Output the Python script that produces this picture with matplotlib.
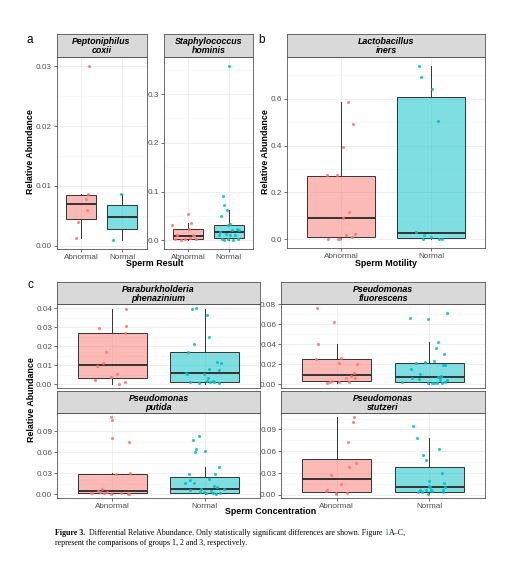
import numpy as np
import matplotlib
matplotlib.use("Agg")
import matplotlib.pyplot as plt
from matplotlib.ticker import MultipleLocator, FormatStrFormatter

plt.rcParams['font.family'] = ['Liberation Sans', 'DejaVu Sans']

W, H = 512, 572

groups = ["Abnormal", "Normal"]
colors = ["#F8766D", "#00BFC4"]

# box stats per group: [whislo, q1, med, q3, whishi]
# --- a: Peptoniphilus coxii
pc_ab_y = [0.0301, 0.0087, 0.0078, 0.0060, 0.0039, 0.0013]
pc_ab_dx = [0.20, 0.17, 0.12, 0.15, -0.08, -0.12]
pc_no_y = [0.0087, 0.0009]
pc_no_dx = [-0.03, -0.23]
pc_ab_box = [0.0013, 0.0044, 0.0069, 0.0084, 0.0087]
pc_no_box = [0.0009, 0.0028, 0.0048, 0.0068, 0.0087]

# --- a: Staphylococcus hominis
sh_ab_y = [0.0545, 0.036, 0.032, 0.024, 0.0116, 0.0102, 0.0048, 0.002, 0.0034, 0.0, 0.0034, 0.0089]
sh_ab_dx = [0.0, 0.07, -0.39, 0.02, 0.12, -0.27, 0.04, 0.2, -0.07, -0.19, -0.33, 0.14]
sh_no_y = [0.358, 0.0907, 0.073, 0.0627, 0.049, 0.034, 0.0307, 0.017, 0.0204, 0.0225,
           0.0204, 0.0116, 0.0136, 0.0102, 0.0034, 0.0, 0.0, 0.0034, 0.0034, 0.0102]
sh_no_dx = [0.0, -0.15, -0.11, -0.05, -0.18, 0.02, -0.01, -0.21, 0.07, 0.2,
            0.25, -0.23, -0.07, 0.03, -0.17, -0.11, 0.11, 0.24, -0.01, 0.15]
sh_ab_box = [0.0, 0.002, 0.0082, 0.023, 0.036]
sh_no_box = [0.0, 0.0048, 0.017, 0.032, 0.0627]

# --- b: Lactobacillus iners
li_ab_y = [0.587, 0.493, 0.394, 0.273, 0.273, 0.118, 0.093, 0.024, 0.017, 0.012, 0.003, 0.003, 0.002]
li_ab_dx = [0.08, 0.13, 0.02, -0.16, -0.04, 0.09, 0.02, 0.16, 0.06, 0.12, -0.15, -0.03, -0.01]
li_no_y = [0.739, 0.694, 0.641, 0.503, 0.032, 0.018, 0.011, 0.002, 0.003, 0.003]
li_no_dx = [-0.13, -0.11, 0.01, 0.08, -0.17, -0.08, 0.0, -0.09, 0.09, 0.12]
li_ab_box = [0.002, 0.011, 0.093, 0.272, 0.586]
li_no_box = [0.0, 0.005, 0.025, 0.607, 0.741]

# --- c: Paraburkholderia phenazinium
pp_ab_y = [0.0398, 0.0295, 0.0307, 0.0267, 0.0172, 0.0111, 0.0095, 0.0056, 0.0037, 0.0023, 0.0012, 0.0]
pp_ab_dx = [0.15, -0.14, 0.15, 0.14, -0.07, -0.10, -0.17, 0.05, -0.02, -0.19, 0.14, 0.07]
pp_no_y = [0.0396, 0.0402, 0.0365, 0.0249, 0.0209, 0.0172, 0.0119, 0.0109, 0.0082, 0.0077, 0.006,
           0.0051, 0.0054, 0.003, 0.0009, 0.0005, 0.0018, 0.0009, 0.0009, 0.0004, 0.0016]
pp_no_dx = [-0.14, -0.09, 0.03, 0.05, -0.11, -0.18, 0.13, 0.18, 0.05, 0.16, -0.2,
            -0.19, -0.01, 0.04, -0.16, -0.06, 0.09, 0.10, 0.06, 0.16, 0.03]
pp_ab_box = [0.0, 0.0035, 0.0102, 0.0272, 0.0398]
pp_no_box = [0.0, 0.0012, 0.006, 0.017, 0.0398]

# --- c: Pseudomonas fluorescens
pf_ab_y = [0.0763, 0.0626, 0.0398, 0.0254, 0.0258, 0.0208, 0.0201, 0.0107, 0.0084, 0.0057,
           0.0057, 0.0017, 0.003, 0.0023, 0.0007, 0.0023]
pf_ab_dx = [-0.21, -0.03, -0.2, -0.22, 0.05, 0.03, 0.22, 0.19, 0.15, 0.10,
            0.2, 0.13, -0.05, 0.03, -0.10, -0.07]
pf_no_y = [0.0666, 0.0656, 0.071, 0.0425, 0.0365, 0.0298, 0.0231, 0.0218, 0.0214, 0.0191, 0.0191,
           0.0147, 0.0104, 0.0084, 0.0074, 0.0064, 0.005, 0.0023, 0.0007, 0.0013, 0.0037,
           0.0007, 0.0023, 0.004, 0.0007, 0.0007, 0.006]
pf_no_dx = [-0.21, -0.01, 0.19, 0.09, 0.07, 0.16, 0.05, -0.05, -0.14, 0.15, 0.17,
            -0.2, -0.1, 0.13, 0.09, -0.19, -0.11, -0.29, -0.01, 0.03, 0.11,
            0.14, 0.17, 0.19, 0.05, 0.08, 0.12]
pf_ab_box = [0.0007, 0.0027, 0.0094, 0.0251, 0.0398]
pf_no_box = [0.0, 0.0023, 0.0074, 0.0214, 0.0425]

# --- c: Pseudomonas putida
pu_ab_y = [0.111, 0.1067, 0.0808, 0.0744, 0.0289, 0.0303, 0.0044, 0.0069, 0.0029, 0.001,
           0.001, 0.0024, 0.0, 0.001, 0.0, 0.0005, 0.002]
pu_ab_dx = [-0.02, 0.0, 0.0, 0.18, 0.04, 0.19, -0.16, -0.11, -0.13, -0.09,
            -0.23, -0.06, -0.02, 0.09, 0.17, 0.18, -0.22]
pu_no_y = [0.084, 0.0778, 0.0646, 0.0612, 0.0626, 0.0392, 0.0289, 0.0289, 0.0201, 0.022,
           0.0157, 0.0162, 0.0117, 0.0108, 0.0059, 0.0078, 0.0034, 0.0069, 0.001, 0.001,
           0.0, 0.001, 0.0034, 0.0049]
pu_no_dx = [-0.06, -0.13, -0.09, -0.1, 0.0, 0.16, -0.17, 0.11, -0.16, 0.05,
            -0.12, -0.21, 0.1, 0.13, -0.16, -0.04, -0.01, 0.21, 0.01, 0.09,
            0.12, 0.17, -0.05, 0.07]
pu_ab_box = [0.0, 0.0015, 0.0049, 0.0294, 0.0303]
pu_no_box = [0.0, 0.001, 0.0073, 0.0245, 0.039]

# --- c: Pseudomonas stutzeri
ps_ab_y = [0.1073, 0.0998, 0.0727, 0.0431, 0.0384, 0.0277, 0.015, 0.0061, 0.0047, 0.0023, 0.0009, 0.0023]
ps_ab_dx = [0.19, 0.18, 0.12, 0.21, 0.13, -0.06, 0.05, -0.1, -0.11, -0.01, -0.01, 0.11]
ps_no_y = [0.0952, 0.0783, 0.0628, 0.0553, 0.0483, 0.0295, 0.0188, 0.0159, 0.0108, 0.0108,
           0.007, 0.0066, 0.0061, 0.007, 0.0033, 0.0033, 0.0014, 0.0047, 0.0037, 0.0117]
ps_no_dx = [-0.18, -0.13, 0.1, -0.07, -0.04, 0.14, 0.0, 0.16, 0.17, 0.01,
            -0.04, -0.1, 0.15, 0.02, -0.12, -0.08, -0.01, 0.03, 0.15, 0.0]
ps_ab_box = [0.0009, 0.0037, 0.0216, 0.0497, 0.1073]
ps_no_box = [0.0014, 0.0042, 0.0108, 0.0389, 0.0783]


def rect(x0, y0, x1, y1):
    return [x0 / W, 1 - y1 / H, (x1 - x0) / W, (y1 - y0) / H]


fig = plt.figure(figsize=(W / 100, H / 100), dpi=100)
fig.patch.set_facecolor("white")


def panel(x0, x1, ys, yp, yb, title, ab_y, ab_dx, no_y, no_dx, ab_box, no_box, step, fmt,
          showx=True):
    ax = fig.add_axes(rect(x0, yp, x1, yb))
    st = fig.add_axes(rect(x0, ys, x1, yp))
    st.set_facecolor("#D9D9D9")
    st.set_xticks([])
    st.set_yticks([])
    for sp in st.spines.values():
        sp.set_color("#555555")
        sp.set_linewidth(0.6)
    st.text(0.5, 0.47, title, ha="center", va="center", fontsize=6.4,
            fontweight="bold", fontstyle="italic", linespacing=1.0, transform=st.transAxes)

    stats = []
    for b in (ab_box, no_box):
        stats.append(dict(whislo=b[0], q1=b[1], med=b[2], q3=b[3], whishi=b[4]))
    bp = ax.bxp(stats, positions=[1, 2], widths=0.75, patch_artist=True,
                showcaps=False, showfliers=False,
                boxprops=dict(edgecolor="#333333", linewidth=0.7),
                whiskerprops=dict(color="#333333", linewidth=0.7),
                medianprops=dict(color="#333333", linewidth=1.4))
    for patch, c in zip(bp["boxes"], colors):
        patch.set_facecolor(matplotlib.colors.to_rgba(c, 0.5))
        patch.set_zorder(2)
    for i, (yv, dx) in enumerate(((ab_y, ab_dx), (no_y, no_dx))):
        ax.scatter(np.array(dx) + i + 1, yv, s=5, color=colors[i], alpha=0.85,
                   linewidths=0, zorder=4)

    allv = list(ab_y) + list(no_y) + list(ab_box) + list(no_box)
    lo, hi = min(allv), max(allv)
    pad = (hi - lo) * 0.05
    ax.set_ylim(lo - pad, hi + pad)
    ax.set_xlim(0.4, 2.6)
    ax.set_xticks([1, 2])
    ax.set_xticklabels(groups)
    ax.yaxis.set_major_locator(MultipleLocator(step))
    ax.yaxis.set_minor_locator(MultipleLocator(step / 2))
    ax.yaxis.set_major_formatter(FormatStrFormatter(fmt))
    ax.grid(True, which="major", color="#EBEBEB", linewidth=0.6, zorder=0)
    ax.grid(True, which="minor", axis="y", color="#F4F4F4", linewidth=0.4, zorder=0)
    ax.set_axisbelow(True)
    ax.tick_params(axis="both", which="major", labelsize=5.9, labelcolor="#4D4D4D",
                   color="#333333", length=2, width=0.5, pad=1.5)
    ax.tick_params(axis="y", which="minor", length=0)
    if not showx:
        ax.tick_params(axis="x", which="both", length=0, labelbottom=False)
    for sp in ax.spines.values():
        sp.set_color("#555555")
        sp.set_linewidth(0.6)
    return ax


# panel a
panel(56.5, 146.5, 34, 57, 249, "Peptoniphilus\ncoxii", pc_ab_y, pc_ab_dx, pc_no_y, pc_no_dx,
      pc_ab_box, pc_no_box, 0.01, "%.2f")
panel(164, 253, 34, 57, 249, "Staphylococcus\nhominis", sh_ab_y, sh_ab_dx, sh_no_y, sh_no_dx,
      sh_ab_box, sh_no_box, 0.1, "%.1f")
# panel b
panel(287, 485, 34, 57, 248, "Lactobacillus\niners", li_ab_y, li_ab_dx, li_no_y, li_no_dx,
      li_ab_box, li_no_box, 0.2, "%.1f")
# panel c
panel(57, 260, 282, 304, 388, "Paraburkholderia\nphenazinium", pp_ab_y, pp_ab_dx, pp_no_y, pp_no_dx,
      pp_ab_box, pp_no_box, 0.01, "%.2f", showx=False)
panel(281, 485, 282, 304, 388, "Pseudomonas\nfluorescens", pf_ab_y, pf_ab_dx, pf_no_y, pf_no_dx,
      pf_ab_box, pf_no_box, 0.02, "%.2f", showx=False)
panel(57, 260, 391, 413, 498, "Pseudomonas\nputida", pu_ab_y, pu_ab_dx, pu_no_y, pu_no_dx,
      pu_ab_box, pu_no_box, 0.03, "%.2f")
panel(281, 485, 391, 413, 498, "Pseudomonas\nstutzeri", ps_ab_y, ps_ab_dx, ps_no_y, ps_no_dx,
      ps_ab_box, ps_no_box, 0.03, "%.2f")


def ftext(x, y, s, **kw):
    return fig.text(x / W, 1 - y / H, s, **kw)


# panel letters and axis titles
ftext(30, 40, "a", fontsize=8.5, ha="center", va="center")
ftext(262, 40, "b", fontsize=8.5, ha="center", va="center")
ftext(30, 285, "c", fontsize=8.5, ha="center", va="center")
lab = dict(fontsize=6.4, fontweight="bold", ha="center", va="center")
ftext(30.5, 152, "Relative Abundance", rotation=90, **lab)
ftext(266, 152, "Relative Abundance", rotation=90, **lab)
ftext(31, 400, "Relative Abundance", rotation=90, **lab)
ftext(155, 264, "Sperm Result", **lab)
ftext(386, 264, "Sperm Motility", **lab)
ftext(271, 512, "Sperm Concentration", **lab)

# caption
cap = dict(fontsize=5.7, family="Liberation Serif", va="baseline")
pieces = [("Figure 3.", "black", "bold"),
          ("  Differential Relative Abundance. Only statistically significant differences are shown. Figure ",
           "black", "normal"),
          ("1", "#1F5FBF", "normal"),
          ("A\u2013C,", "black", "normal")]
r = fig.canvas.get_renderer()
x = 55
for s, c, w in pieces:
    t = ftext(x, 535, s, color=c, fontweight=w, **cap)
    x += t.get_window_extent(renderer=r).width
ftext(55, 545, "represent the comparisons of groups 1, 2 and 3, respectively.", **cap)

fig.savefig("out.png", dpi=100, facecolor="white")
